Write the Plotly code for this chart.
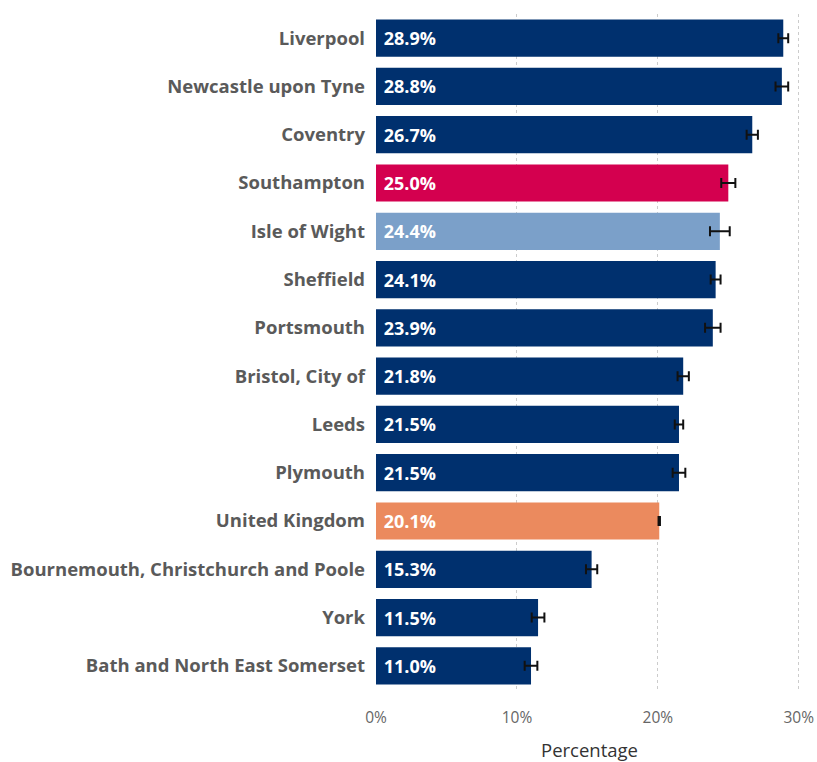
import plotly.graph_objects as go

areas = ["Liverpool", "Newcastle upon Tyne", "Coventry", "Southampton", "Isle of Wight",
         "Sheffield", "Portsmouth", "Bristol, City of", "Leeds", "Plymouth",
         "United Kingdom", "Bournemouth, Christchurch and Poole", "York",
         "Bath and North East Somerset"]
percent = [28.9, 28.8, 26.7, 25.0, 24.4, 24.1, 23.9, 21.8, 21.5, 21.5, 20.1, 15.3, 11.5, 11.0]
ci = [0.35, 0.45, 0.4, 0.5, 0.7, 0.35, 0.55, 0.4, 0.3, 0.45, 0.05, 0.4, 0.45, 0.45]
x_ticks = [0, 10, 20, 30]
x_tick_labels = ["0%", "10%", "20%", "30%"]

NAVY = "#00306e"
# highlighted areas get their own colour
highlight = {"Southampton": "#d4004f", "Isle of Wight": "#7ba0c9", "United Kingdom": "#eb8a5e"}
bar_colors = [highlight.get(a, NAVY) for a in areas]

FONT = "Open Sans"

fig = go.Figure(go.Bar(
    x=percent, y=areas, orientation="h",
    marker=dict(color=bar_colors, line=dict(width=0)),
    error_x=dict(type="data", array=ci, color="#111111", thickness=2, width=5),
    text=["\u00a0" + f"{v:.1f}%" for v in percent], textposition="inside", insidetextanchor="start",
    textfont=dict(family=FONT, size=18, color="white", weight="bold"),
    hovertemplate="%{y}: %{x:.1f}%<extra></extra>",
))

fig.update_yaxes(autorange="reversed", showgrid=False, ticks="", ticklabelstandoff=10,
                 tickfont=dict(family=FONT, size=18.5, color="#5a5a5a", weight="bold"))
fig.update_xaxes(range=[0, 30.3], tickvals=x_ticks, ticktext=x_tick_labels,
                 showgrid=True, gridcolor="#cccccc", griddash="dot", gridwidth=1,
                 zeroline=False, showline=False, ticklabelstandoff=16, ticklabeloverflow="allow",
                 tickfont=dict(family=FONT, size=15.5, color="#666666"),
                 title=dict(text="Percentage", font=dict(family=FONT, size=18.5, color="#333333"),
                            standoff=22))

fig.update_layout(width=817, height=762, bargap=0.23, showlegend=False,
                  plot_bgcolor="white", paper_bgcolor="white",
                  margin=dict(l=376, r=14, t=14, b=72, autoexpand=False))

# drop the default page margin so the figure fills the window exactly
fig.write_html("out.html", config={"displayModeBar": False},
               post_script="document.body.style.margin='0';"
                           "document.documentElement.style.overflow='hidden';")
